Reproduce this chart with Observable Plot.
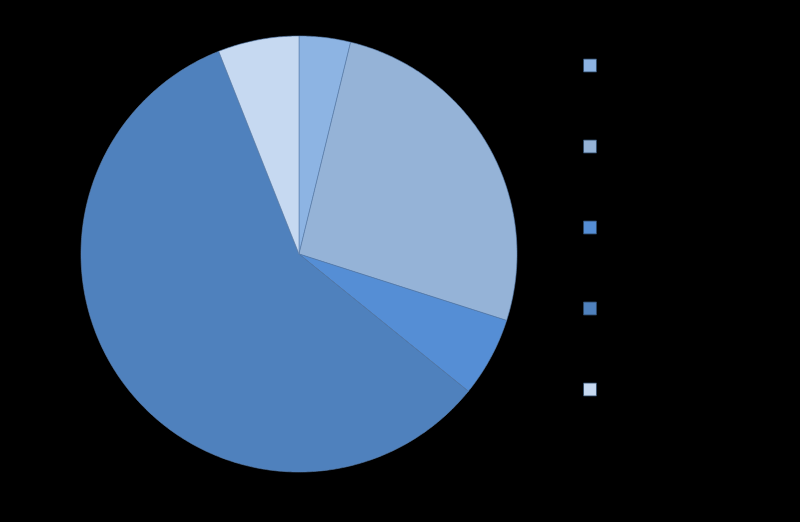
<!DOCTYPE html>
<html>
<head>
<meta charset="utf-8">
<script src="https://cdn.jsdelivr.net/npm/d3@7"></script>
<script src="https://cdn.jsdelivr.net/npm/@observablehq/plot@0.6"></script>
<style>
  html, body { margin: 0; padding: 0; background: #000; }
  #chart { width: 800px; height: 522px; }
</style>
</head>
<body>
<div id="chart"></div>
<script>
// Data (category labels are not visible)
const categories = ["Category 1", "Category 2", "Category 3", "Category 4", "Category 5"];
const values = [3.8, 26.1, 5.9, 58.1, 6.0];
const colors = ["#8DB4E3", "#95B3D7", "#558ED5", "#4F81BD", "#C6D9F1"];

// Layout
const W = 800, H = 522;
const cx = 298.5, cy = 253.5, R = 218;
const legendX = 589.5, legendY0 = 65, legendStep = 81;

const table = categories.map((c, i) => ({category: c, value: values[i]}));
const arcs = d3.pie().sort(null).value(d => d.value)(table);

// Build slice polygons from pie angles
const pts = [];
arcs.forEach(a => {
  const n = Math.max(4, Math.ceil((a.endAngle - a.startAngle) / 0.01));
  pts.push({category: a.data.category, x: cx, y: cy});
  for (let k = 0; k <= n; k++) {
    const t = a.startAngle + (a.endAngle - a.startAngle) * k / n;
    pts.push({category: a.data.category, x: cx + R * Math.sin(t), y: cy - R * Math.cos(t)});
  }
  pts.push({category: a.data.category, x: cx, y: cy});
});

const legend = categories.map((c, i) => ({category: c, x: legendX, y: legendY0 + legendStep * i}));

const chart = Plot.plot({
  width: W,
  height: H,
  margin: 0,
  style: {background: "#000"},
  x: {domain: [0, W], range: [0, W], axis: null},
  y: {domain: [0, H], range: [0, H], axis: null},
  color: {domain: categories, range: colors},
  marks: [
    Plot.line(pts, {x: "x", y: "y", z: "category", fill: "category", stroke: "#5a7fae", strokeWidth: 0.6, curve: "linear"}),
    Plot.dot(legend, {x: "x", y: "y", fill: "category", symbol: "square", r: 7.3, stroke: "#2f4a6a", strokeWidth: 0.8})
  ]
});
document.getElementById("chart").appendChild(chart);
</script>
</body>
</html>
